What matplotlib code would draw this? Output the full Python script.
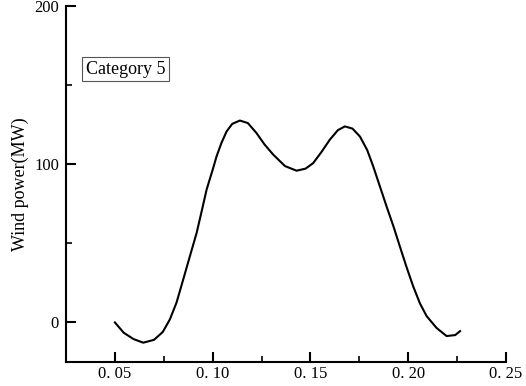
import matplotlib.pyplot as plt
import numpy as np

plt.rcParams['font.family'] = ['Liberation Serif', 'DejaVu Serif']

# data
ratio = [0.050, 0.0545, 0.0595, 0.0645, 0.0700, 0.0745, 0.0781, 0.0815, 0.0849,
         0.0885, 0.0918, 0.0945, 0.0969, 0.1000, 0.1020, 0.1045, 0.1071, 0.1100,
         0.1139, 0.1180, 0.1224, 0.1265, 0.1310, 0.1370, 0.1429, 0.1475, 0.1514,
         0.1555, 0.1599, 0.1640, 0.1676, 0.1715, 0.1753, 0.1790, 0.1821, 0.1855,
         0.1889, 0.1925, 0.1957, 0.1990, 0.2025, 0.2060, 0.2094, 0.2145, 0.2196,
         0.2240, 0.2265]
power = [0.0, -6.5, -10.5, -12.8, -11.0, -6.0, 1.9, 12.5, 27.0,
         42.5, 56.6, 71.0, 84.0, 96.5, 105.0, 113.5, 120.7, 125.5,
         127.6, 126.0, 119.7, 112.5, 106.0, 98.8, 95.9, 97.2, 100.7,
         107.5, 115.5, 121.5, 123.9, 122.5, 117.5, 109.0, 98.6, 86.0,
         73.4, 60.5, 48.1, 35.5, 22.9, 12.0, 4.0, -3.5, -8.6,
         -8.0, -5.5]

xticks = [0.05, 0.10, 0.15, 0.20, 0.25]
xtick_labels = ["0. 05", "0. 10", "0. 15", "0. 20", "0. 25"]
yticks = [0, 100, 200]

fig = plt.figure(figsize=(5.26, 3.86), dpi=100)
ax = fig.add_axes([0.1255, 0.0622, 0.8365, 0.9223])

ax.plot(ratio, power, color='black', linewidth=1.5, solid_joinstyle='round')

ax.set_xlim(0.025, 0.25)
ax.set_ylim(-25, 200)
ax.set_xticks(xticks)
ax.set_xticklabels(xtick_labels)
ax.set_xticks([0.075, 0.125, 0.175, 0.225], minor=True)
ax.set_yticks(yticks)
ax.set_yticks([50, 150], minor=True)

ax.spines['top'].set_visible(False)
ax.spines['right'].set_visible(False)
ax.spines['left'].set_linewidth(1.5)
ax.spines['bottom'].set_linewidth(1.5)
ax.tick_params(which='major', direction='in', length=7, width=1.5, labelsize=12, pad=5)
ax.tick_params(axis='x', which='major', pad=3)
ax.tick_params(which='minor', direction='in', length=4, width=1.2)

ax.set_ylabel("Wind power(MW)", fontsize=13, labelpad=4)

ax.text(0.0350, 160, "Category 5", fontsize=13, va='center', ha='left',
        bbox=dict(boxstyle='square,pad=0.2', facecolor='white', edgecolor='#555555', linewidth=0.8))

plt.savefig("out.png", dpi=100)
